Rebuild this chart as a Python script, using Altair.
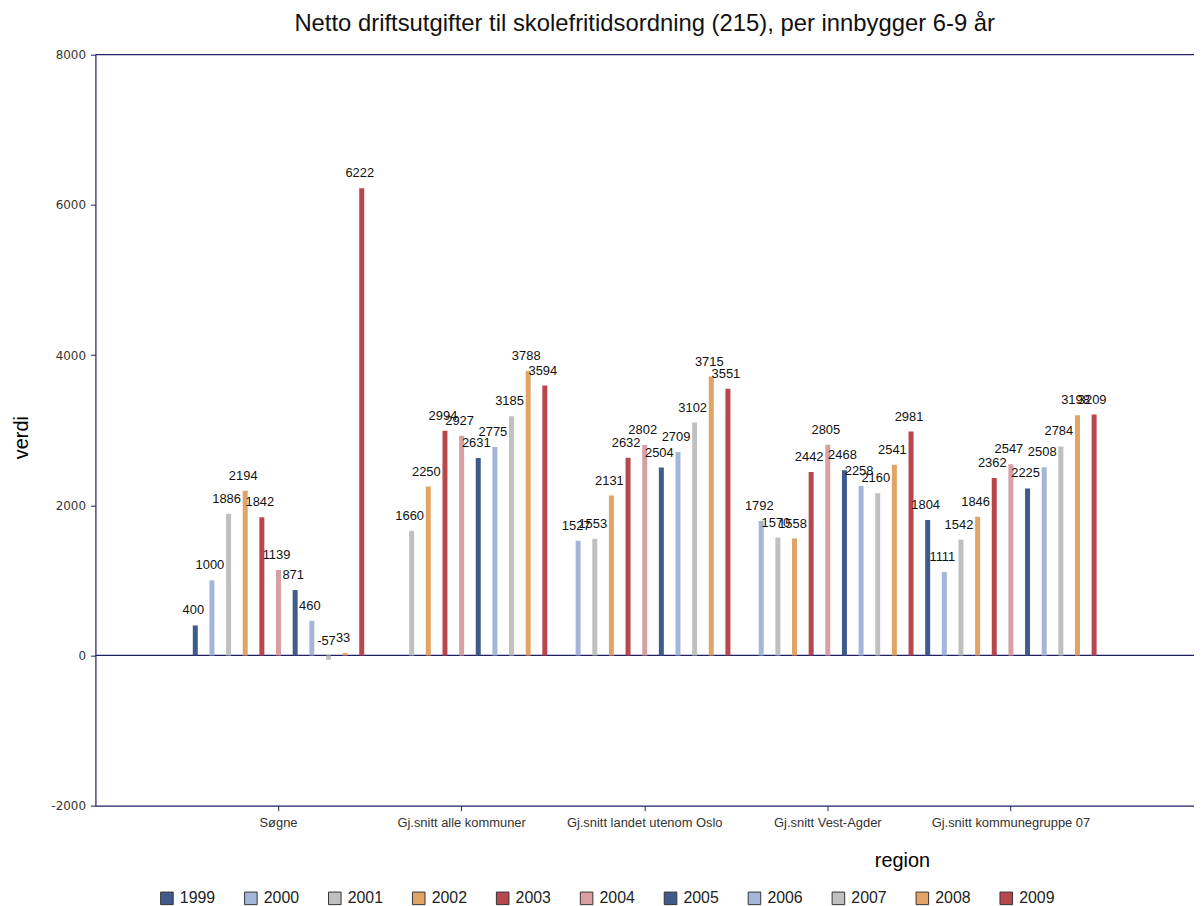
import altair as alt
import pandas as pd

regions = ["Søgne", "Gj.snitt alle kommuner", "Gj.snitt landet utenom Oslo",
           "Gj.snitt Vest-Agder", "Gj.snitt kommunegruppe 07"]
years = ["1999", "2000", "2001", "2002", "2003", "2004", "2005", "2006", "2007", "2008", "2009"]

soegne = [400, 1000, 1886, 2194, 1842, 1139, 871, 460, -57, 33, 6222]
alle_kommuner = [None, None, 1660, 2250, 2994, 2927, 2631, 2775, 3185, 3788, 3594]
landet_uten_oslo = [None, 1527, 1553, 2131, 2632, 2802, 2504, 2709, 3102, 3715, 3551]
vest_agder = [None, 1792, 1570, 1558, 2442, 2805, 2468, 2258, 2160, 2541, 2981]
kommunegruppe_07 = [1804, 1111, 1542, 1846, 2362, 2547, 2225, 2508, 2784, 3198, 3209]

series = [soegne, alle_kommuner, landet_uten_oslo, vest_agder, kommunegruppe_07]

colors = ["#3f5b8c", "#a3b6da", "#c0c0c0", "#e2a466", "#b8474d", "#d9a0a3",
          "#3f5b8c", "#a3b6da", "#c0c0c0", "#e2a466", "#b8474d"]

rows = []
for reg, vals in zip(regions, series):
    for yr, v in zip(years, vals):
        if v is not None:
            rows.append({"region": reg, "år": yr, "verdi": v})
df = pd.DataFrame(rows)

NAVY = "#1f1f66"
FONT = "Liberation Sans"

xenc = alt.X("region:N", sort=regions,
             scale=alt.Scale(paddingInner=0, paddingOuter=0.5),
             axis=alt.Axis(title="region", labelAngle=0, labelFontSize=13, labelColor="#333",
                           labelFont=FONT, tickSize=5, labelPadding=6,
                           titleFontSize=20, titleFont=FONT, titleFontWeight="normal",
                           titleX=812, titleY=55, titleBaseline="middle"))
xoff = alt.XOffset("år:N", scale=alt.Scale(domain=years, paddingInner=0.7, paddingOuter=0.35))
yaxis = alt.Axis(title="verdi", values=[-2000, 0, 2000, 4000, 6000, 8000], grid=False,
                 labelExpr="'' + datum.value",
                 labelFontSize=12, labelFont="DejaVu Sans", labelColor="#333",
                 tickSize=5, labelPadding=5,
                 titleFontSize=20, titleFont=FONT, titleFontWeight="normal",
                 titleX=-74, titleY=385, titleBaseline="middle", titleAngle=-90)
yscale = alt.Scale(domain=[-2000, 8000], nice=False, zero=False)

bars = alt.Chart(df).mark_bar().encode(
    x=xenc,
    xOffset=xoff,
    y=alt.Y("verdi:Q", scale=yscale, axis=yaxis),
    color=alt.Color("år:N", scale=alt.Scale(domain=years, range=colors),
                    legend=alt.Legend(title=None, orient="none", direction="horizontal",
                                      legendX=64, legendY=841, symbolType="square",
                                      symbolSize=160, symbolStrokeColor="#333",
                                      symbolStrokeWidth=1, labelFontSize=16, labelFont=FONT,
                                      labelColor="#222", labelOffset=5, columnPadding=26.5,
                                      padding=0)),
)

labels = alt.Chart(df).transform_calculate(
    ly="max(datum.verdi, 0)",
    lbl="'' + datum.verdi",
).mark_text(fontSize=13, font=FONT, color="#111", baseline="alphabetic", dy=-11, dx=-2).encode(
    x=xenc,
    xOffset=xoff,
    y=alt.Y("ly:Q", scale=yscale, axis=yaxis),
    text=alt.Text("lbl:N"),
)

zero = alt.Chart(pd.DataFrame({"v": [0]})).mark_rule(color=NAVY, strokeWidth=1.2).encode(
    y=alt.Y("v:Q", scale=yscale, axis=yaxis)
)
top = alt.Chart(pd.DataFrame({"v": [8000]})).mark_rule(color=NAVY, strokeWidth=1.2).encode(
    y=alt.Y("v:Q", scale=yscale, axis=yaxis)
)

chart = alt.layer(zero, top, bars, labels).properties(
    width=1106, height=756,
    title=alt.TitleParams("Netto driftsutgifter til skolefritidsordning (215), per innbygger 6-9 år",
                          fontSize=24, font=FONT, fontWeight="normal", color="#111",
                          anchor="middle", offset=13),
    padding={"left": 88, "top": 44, "right": 0, "bottom": 98},
    autosize=alt.AutoSizeParams(type="none"),
).configure_view(stroke=None).configure_axis(
    domainColor=NAVY, tickColor=NAVY, domainWidth=1.2
)

chart.save("out.html", embed_options={"renderer": "svg", "actions": False})
